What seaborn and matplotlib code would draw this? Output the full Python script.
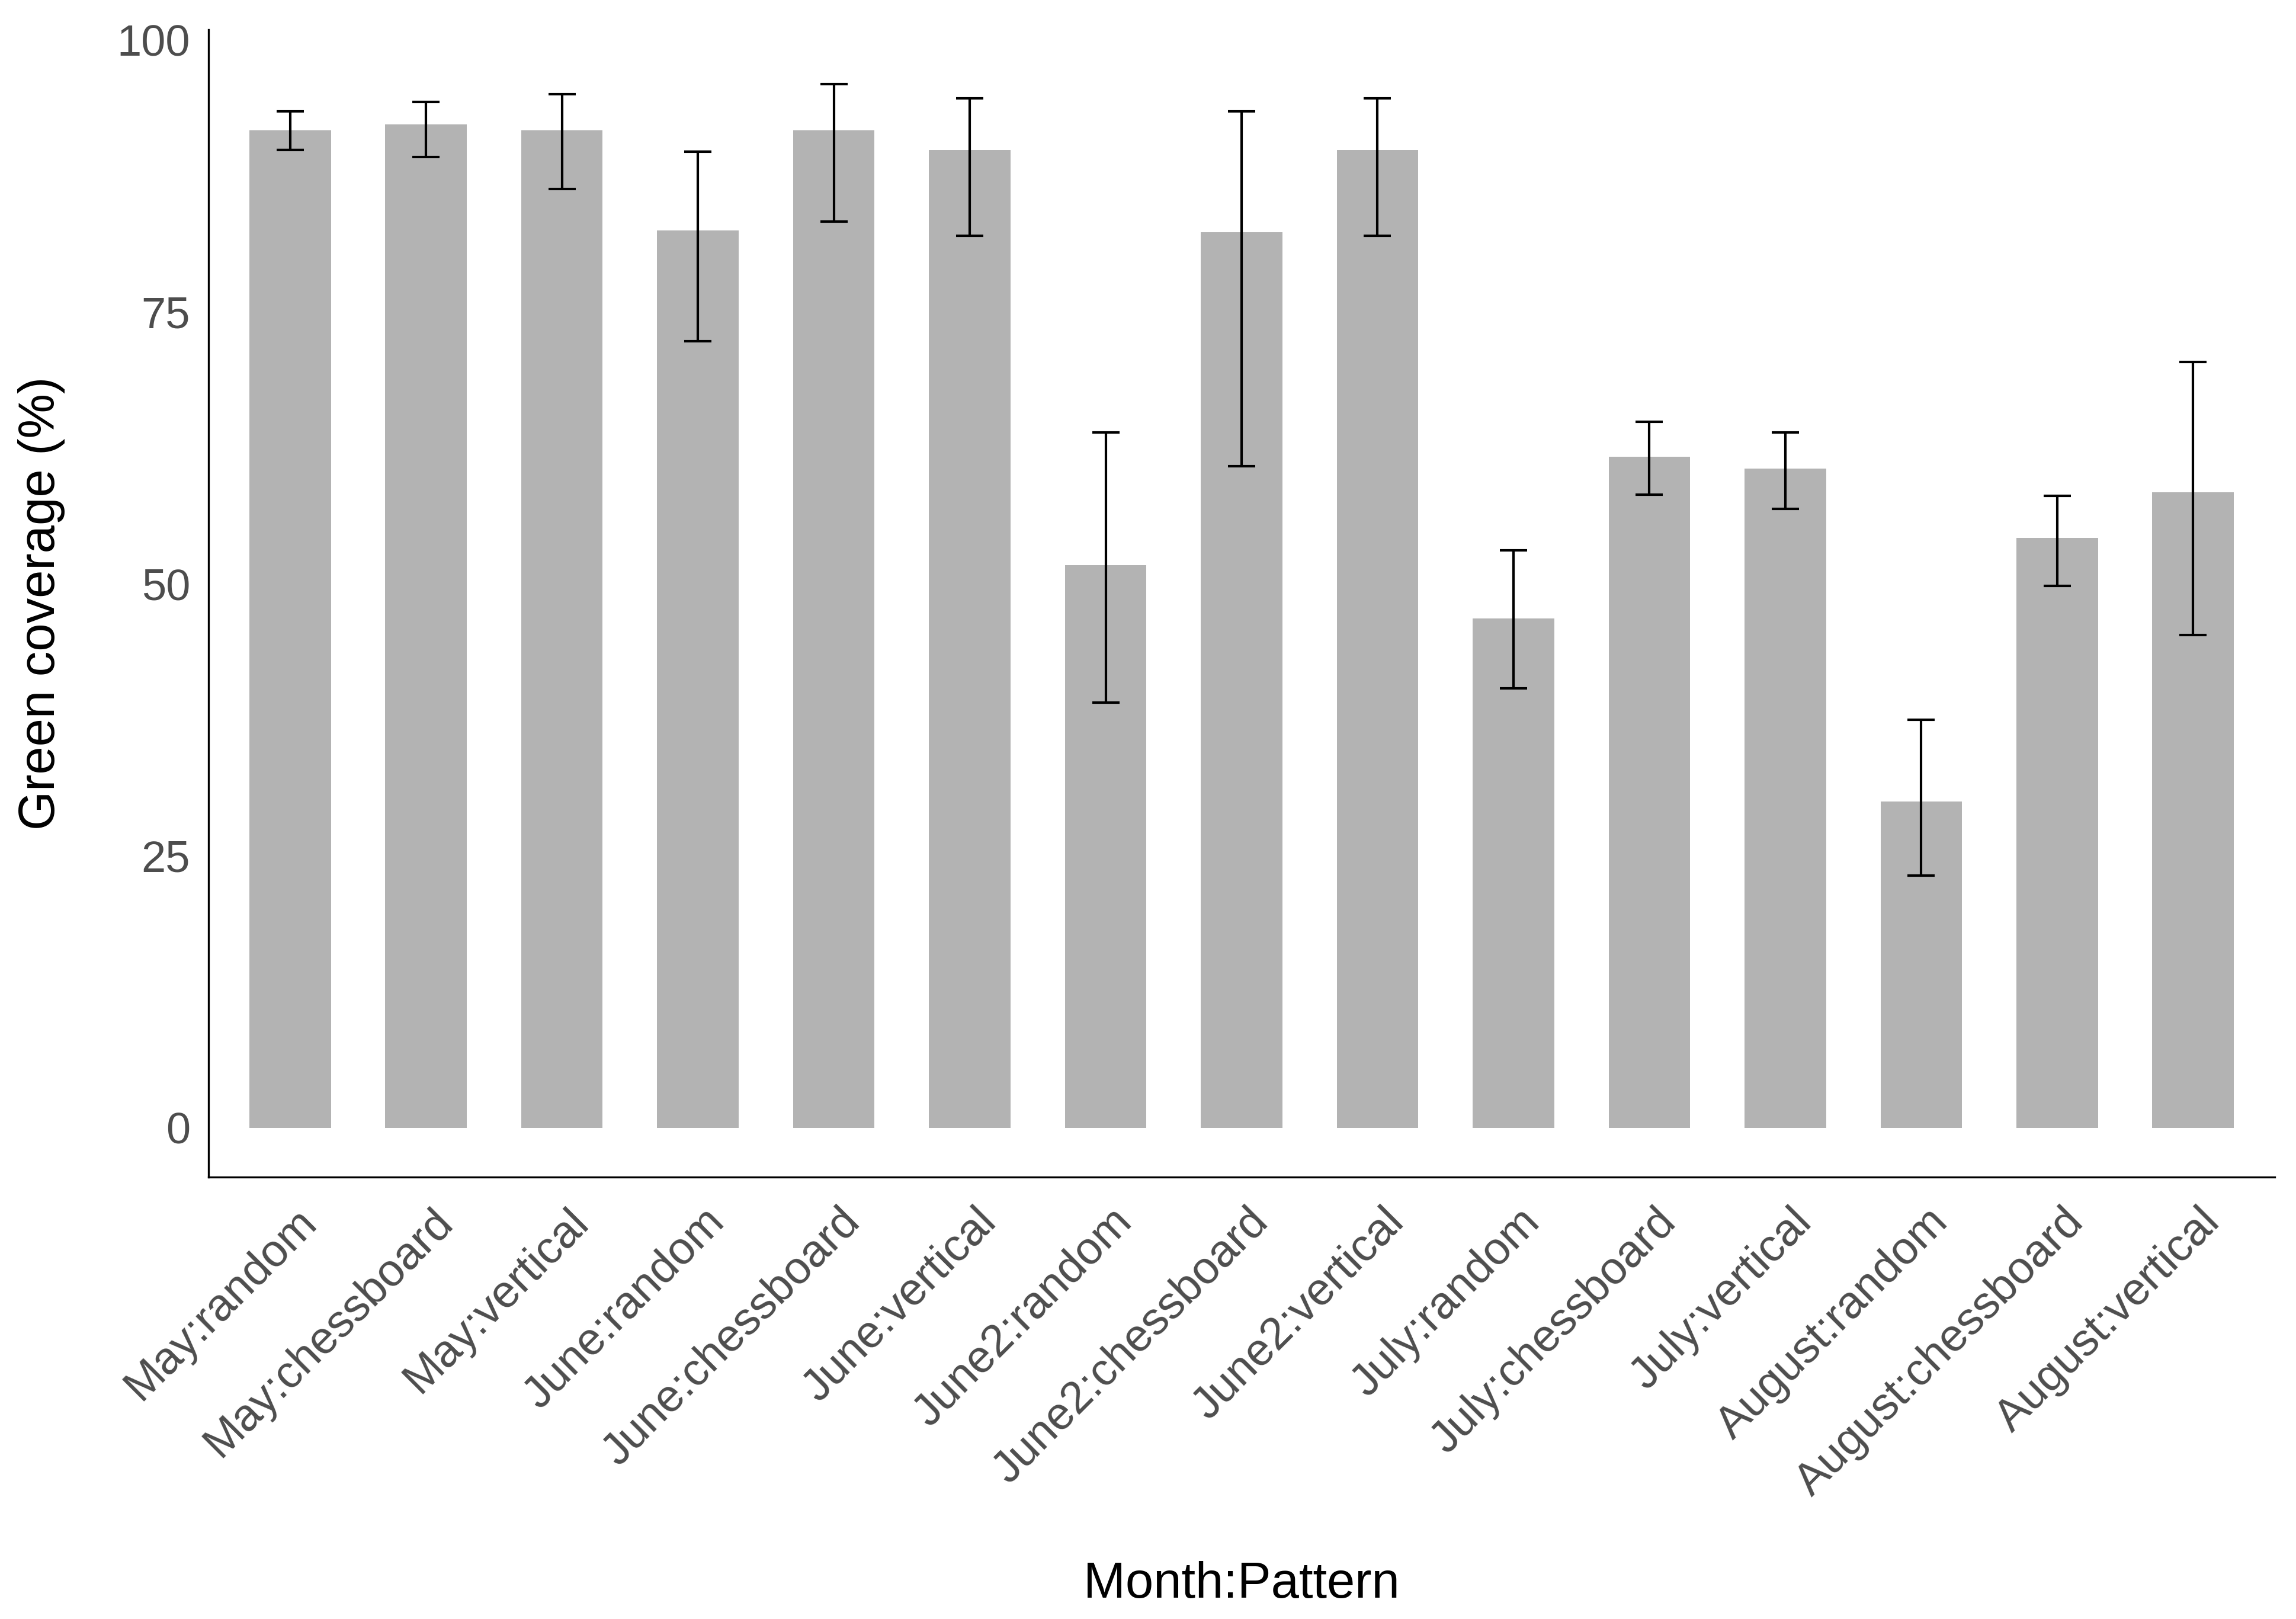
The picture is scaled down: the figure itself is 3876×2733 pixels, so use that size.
import matplotlib
matplotlib.use("Agg")
import matplotlib.pyplot as plt
import matplotlib.transforms as mtransforms
import seaborn as sns
import pandas as pd
import numpy as np

categories = ["May:random", "May:chessboard", "May:vertical",
              "June:random", "June:chessboard", "June:vertical",
              "June2:random", "June2:chessboard", "June2:vertical",
              "July:random", "July:chessboard", "July:vertical",
              "August:random", "August:chessboard", "August:vertical"]
coverage = [91.7, 92.2, 91.7, 82.5, 91.7, 89.9, 51.7, 82.3, 89.9,
            46.8, 61.7, 60.6, 30.0, 54.2, 58.4]
err_low = [89.9, 89.2, 86.3, 72.3, 83.3, 82.0, 39.1, 60.8, 82.0,
           40.4, 58.2, 56.9, 23.2, 49.8, 45.3]
err_high = [93.4, 94.3, 95.0, 89.7, 95.9, 94.6, 63.9, 93.4, 94.6,
            53.1, 64.9, 63.9, 37.5, 58.1, 70.4]
y_ticks = [0, 25, 50, 75, 100]

df = pd.DataFrame({"group": categories, "coverage": coverage,
                   "lo": err_low, "hi": err_high})

sns.set_theme(style="white")
plt.rcParams["font.family"] = ["Liberation Sans", "DejaVu Sans"]

W, H, DPI = 3876, 2733, 300
fig = plt.figure(figsize=(W / DPI, H / DPI), dpi=DPI)
ax_l, ax_r, ax_t, ax_b = 352, 3840, 50, 1987
ax = fig.add_axes([ax_l / W, 1 - ax_b / H, (ax_r - ax_l) / W, (ax_b - ax_t) / H])

sns.barplot(data=df, x="group", y="coverage", order=categories,
            color="#B3B3B3", saturation=1, width=0.6, errorbar=None,
            edgecolor="none", linewidth=0, ax=ax)

xs = np.arange(len(categories))
yerr = np.array([df["coverage"] - df["lo"], df["hi"] - df["coverage"]])
ax.errorbar(xs, df["coverage"], yerr=yerr, fmt="none", ecolor="black",
            elinewidth=1.0, capsize=5.6, capthick=1.0, zorder=3)

ax.set_xlim(-0.6, len(categories) - 1 + 0.6)
ax.set_ylim(-4.52, 100.93)
ax.set_yticks(y_ticks)
ax.set_yticklabels([str(t) for t in y_ticks])

for side in ["top", "right"]:
    ax.spines[side].set_visible(False)
for side in ["left", "bottom"]:
    ax.spines[side].set_color("black")
    ax.spines[side].set_linewidth(0.8)

ax.tick_params(axis="y", length=0, pad=7.4, labelsize=17.8, labelcolor="#4D4D4D")
ax.tick_params(axis="x", length=0, pad=9.5, labelsize=18.3, labelcolor="#4D4D4D")

offset = mtransforms.ScaledTranslation(0.03, 0, fig.dpi_scale_trans)
for lab in ax.get_xticklabels():
    lab.set_rotation(45)
    lab.set_ha("right")
    lab.set_va("top")
    lab.set_rotation_mode("anchor")
    lab.set_transform(lab.get_transform() + offset)

ax.set_xlabel("Month:Pattern", fontsize=20.4, color="black", va="baseline")
ax.xaxis.set_label_coords(0.5, (ax_b - 2697) / (ax_b - ax_t))
ax.set_ylabel("Green coverage (%)", fontsize=20.4, color="black", va="center")
ax.yaxis.set_label_coords((70 - ax_l) / (ax_r - ax_l), 0.5)

fig.savefig("out.png", dpi=DPI, facecolor="white")
